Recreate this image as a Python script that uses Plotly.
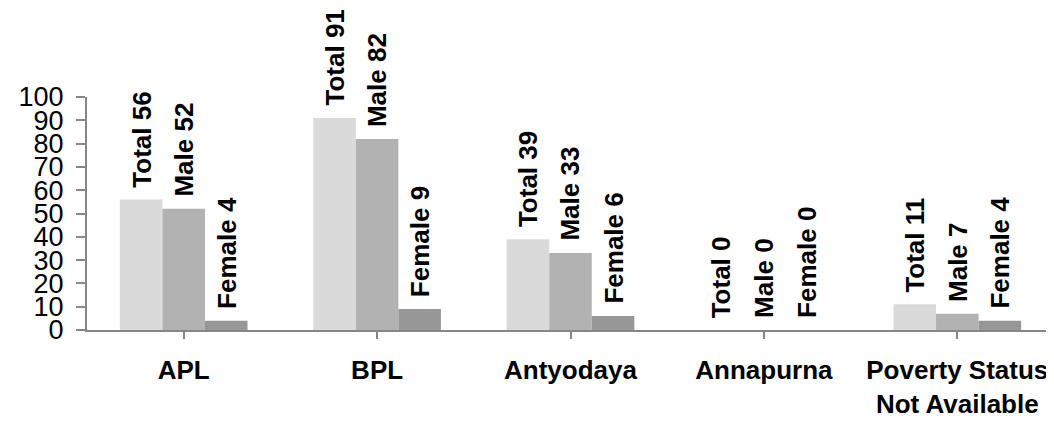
import plotly.graph_objects as go

categories = ["APL", "BPL", "Antyodaya", "Annapurna", "Poverty Status<br>Not Available"]
series_names = ["Total", "Male", "Female"]
total_vals = [56, 91, 39, 0, 11]
male_vals = [52, 82, 33, 0, 7]
female_vals = [4, 9, 6, 0, 4]
colors = ["#dadada", "#b2b2b2", "#979797"]
y_ticks = list(range(0, 101, 10))

series_vals = [total_vals, male_vals, female_vals]
bargap = 0.34
FONT = "Liberation Sans, Arial, sans-serif"

fig = go.Figure()
for name, vals, col in zip(series_names, series_vals, colors):
    fig.add_trace(go.Bar(
        x=list(range(len(categories))), y=vals, name=name,
        marker=dict(color=col, line=dict(width=0)),
    ))

annotations = []
bw = (1 - bargap) / len(series_names)
for i, (name, vals) in enumerate(zip(series_names, series_vals)):
    off = (i - (len(series_names) - 1) / 2) * bw
    for j, v in enumerate(vals):
        annotations.append(dict(
            x=j + off, y=v, xref="x", yref="y",
            text=f"{name} {v}", showarrow=False, textangle=-90,
            xanchor="center", yanchor="bottom", yshift=10,
            font=dict(family=FONT, size=26, color="black", weight="bold"),
        ))

# page body has an 8px default margin, so the figure is 8px smaller than the window
fig.update_layout(
    width=1046, height=413,
    margin=dict(l=79, r=0, t=89, b=91, autoexpand=False),
    paper_bgcolor="white", plot_bgcolor="white",
    barmode="group", bargap=bargap, bargroupgap=0,
    showlegend=False,
    annotations=annotations,
    font=dict(family=FONT, color="black"),
)
fig.update_xaxes(
    tickmode="array", tickvals=list(range(len(categories))), ticktext=categories,
    range=[-0.5, len(categories) - 0.5], automargin=False,
    showline=True, linecolor="#868686", linewidth=2,
    ticks="outside", tickson="boundaries", ticklen=7, tickwidth=1.5, tickcolor="#868686",
    showgrid=False, zeroline=False,
    tickfont=dict(family=FONT, size=26, color="black", weight="bold"),
    ticklabelstandoff=9,
)
fig.update_yaxes(
    range=[0, 100], tickvals=y_ticks, automargin=False,
    showline=True, linecolor="#868686", linewidth=2,
    ticks="outside", ticklen=9, tickwidth=1.5, tickcolor="#868686",
    showgrid=False, zeroline=False,
    tickfont=dict(family=FONT, size=27, color="black"),
    ticklabelstandoff=7,
)
fig.write_html("out.html")
